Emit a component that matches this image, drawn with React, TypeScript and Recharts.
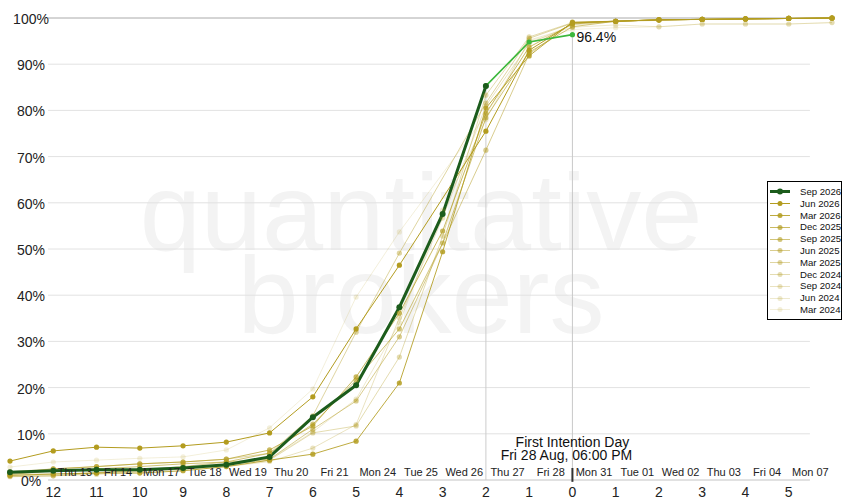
import { Legend, Line, LineChart, ReferenceDot, ReferenceLine, XAxis, YAxis } from 'recharts';

const FONT = '"Liberation Sans", Arial, sans-serif';
const GOLD = '#b39c1f';
const DARK_GREEN = '#1c5c1c';
const LIVE_GREEN = '#3cb83c';

// days relative to first intention day
const POSITIONS = [-13, -12, -11, -10, -9, -8, -7, -6, -5, -4, -3, -2, -1, 0, 1, 2, 3, 4, 5, 6];
const NUM_TICKS = [-12, -11, -10, -9, -8, -7, -6, -5, -4, -3, -2, -1, 0, 1, 2, 3, 4, 5];
const DAY_TICKS = [-11.5, -10.5, -9.5, -8.5, -7.5, -6.5, -5.5, -4.5, -3.5, -2.5, -1.5, -0.5, 0.5, 1.5, 2.5, 3.5, 4.5, 5.5];
const DAY_LABELS = [
  'Thu 13', 'Fri 14', 'Mon 17', 'Tue 18', 'Wed 19', 'Thu 20', 'Fri 21', 'Mon 24', 'Tue 25',
  'Wed 26', 'Thu 27', 'Fri 28', 'Mon 31', 'Tue 01', 'Wed 02', 'Thu 03', 'Fri 04', 'Mon 07',
];
const Y_TICKS = [0, 10, 20, 30, 40, 50, 60, 70, 80, 90, 100];

const SEP_2026 = [1.7, 2.0, 2.2, 2.2, 2.6, 3.3, 5.0, 13.6, 20.5, 37.4, 57.6, 85.3, null, null, null, null, null, null, null, null];
const SEP_2026_LIVE = [null, null, null, null, null, null, null, null, null, null, null, 85.3, 94.8, 96.4, null, null, null, null, null, null];

const JUN_2026 = [4.1, 6.3, 7.1, 6.9, 7.4, 8.2, 10.2, 18.0, 32.7, 46.5, null, 75.5, 93.0, 98.9, 99.3, 99.6, 99.7, 99.8, 99.9, 100];
const MAR_2026 = [1.0, 1.3, 1.5, 1.5, 2.0, 2.9, 4.3, 5.6, 8.4, 21.0, 49.4, 80.5, 91.8, 99.1, 99.3, 99.6, 99.7, 99.8, 99.9, 100];
const DEC_2025 = [1.5, 2.4, 2.9, 3.5, 3.9, 4.5, 6.5, 11.7, 22.3, 36.1, 53.9, 79.4, 93.7, 98.7, 99.3, 99.6, 99.7, 99.8, 99.9, 100];
const SEP_2025 = [1.2, 2.0, 2.4, 2.9, 3.5, 3.9, 5.8, 12.1, 21.6, 32.7, 51.3, 78.4, 92.6, 98.1, 99.3, 99.6, 99.7, 99.8, 99.9, 100];
const JUN_2025 = [0.8, 0.9, 1.5, 2.2, 2.9, 3.9, 4.5, 11.0, 17.1, 31.0, null, 71.4, 92.2, 99.0, 99.3, 99.6, 99.7, 99.8, 99.9, 100];
const MAR_2025 = [1.8, 2.4, 2.9, 3.5, 3.9, 4.5, 5.8, 13.9, 32.0, 49.1, null, 81.6, 95.6, 98.9, 99.3, 99.6, 99.7, 99.8, 99.9, 100];
const DEC_2024 = [1.3, 1.3, 1.5, 2.0, 2.6, 3.3, 4.3, 10.2, 11.7, 26.6, 52.8, 83.3, 95.9, 99.0, 99.3, 99.6, 99.7, 99.8, 99.9, 100];
const SEP_2024 = [0.7, 0.9, 1.2, 1.8, 2.3, 2.9, 4.0, 6.9, 12.0, 35.1, 56.7, 81.0, 94.5, 98.5, 99.2, 99.5, 99.7, 99.8, 99.9, 100];
const JUN_2024 = [1.0, 1.2, 1.6, 2.0, 2.6, 3.3, 4.5, 10.4, 17.5, 34.0, 58.4, 78.0, 95.2, 98.0, 98.5, 98.1, 98.7, 98.7, 98.7, 99.0];
const MAR_2024 = [2.8, 3.9, 4.3, 4.7, 5.0, 6.5, 11.3, 19.7, 39.6, 53.7, null, 79.0, 95.0, 97.5, 97.9, 98.1, 98.7, 98.7, 98.7, 99.0];

const SERIES = [
  { name: 'Jun 2026', values: JUN_2026, opacity: 1 },
  { name: 'Mar 2026', values: MAR_2026, opacity: 0.85 },
  { name: 'Dec 2025', values: DEC_2025, opacity: 0.7 },
  { name: 'Sep 2025', values: SEP_2025, opacity: 0.6 },
  { name: 'Jun 2025', values: JUN_2025, opacity: 0.5 },
  { name: 'Mar 2025', values: MAR_2025, opacity: 0.42 },
  { name: 'Dec 2024', values: DEC_2024, opacity: 0.35 },
  { name: 'Sep 2024', values: SEP_2024, opacity: 0.28 },
  { name: 'Jun 2024', values: JUN_2024, opacity: 0.22 },
  { name: 'Mar 2024', values: MAR_2024, opacity: 0.16 },
];

const GRID_X0 = -12.12;
const GRID_X1 = 5.49;

const rows = POSITIONS.map((pos, i) => {
  const row: Record<string, number | null> = { pos, sep2026: SEP_2026[i], live: SEP_2026_LIVE[i] };
  SERIES.forEach((s) => {
    row[s.name] = s.values[i];
  });
  return row;
});

const FID_INDEX = POSITIONS.indexOf(0);
const LAST_INDEX = SEP_2026.findIndex((v) => v === null) - 1;

function XTick({ x, y, payload }: any) {
  const v = payload.value;
  const dayIdx = DAY_TICKS.indexOf(v);
  if (dayIdx >= 0) {
    return (
      <text x={x} y={y - 6} textAnchor="middle" fontSize={11} fill="#222" fontFamily={FONT}>
        {DAY_LABELS[dayIdx]}
      </text>
    );
  }
  return (
    <text x={x} y={y + 15} textAnchor="middle" fontSize={14} fill="#222" fontFamily={FONT}>
      {Math.abs(v)}
    </text>
  );
}

function YTick({ y, payload }: any) {
  const v = payload.value;
  return (
    <text x={31} y={y + 6} textAnchor="middle" fontSize={14} fill="#222" fontFamily={FONT}>
      {v}%
    </text>
  );
}

function LegendBox() {
  const items = [{ name: 'Sep 2026', color: DARK_GREEN, opacity: 1, width: 3, r: 3 }].concat(
    SERIES.map((s) => ({ name: s.name, color: GOLD, opacity: s.opacity, width: 1, r: 2.5 })),
  );
  return (
    <div
      style={{
        boxSizing: 'border-box',
        width: 75,
        height: 139,
        border: '1px solid #000',
        background: '#fff',
        padding: '4px 0 0 2px',
        fontFamily: FONT,
        fontSize: 9.6,
        color: '#111',
      }}
    >
      {items.map((it) => (
        <div key={it.name} style={{ display: 'flex', alignItems: 'center', height: 11.8, lineHeight: '11.8px' }}>
          <svg width={21} height={11} style={{ flex: 'none' }}>
            <line x1={0} x2={20} y1={5.5} y2={5.5} stroke={it.color} strokeOpacity={it.opacity} strokeWidth={it.width} />
            <circle cx={10} cy={5.5} r={it.r} fill={it.color} fillOpacity={it.opacity} />
          </svg>
          <span style={{ marginLeft: 9, whiteSpace: 'nowrap' }}>{it.name}</span>
        </div>
      ))}
    </div>
  );
}

export default function App() {
  return (
    <div style={{ position: 'absolute', left: 0, top: 0, width: 850, height: 500, background: '#fff' }}>
      <svg width={850} height={500} style={{ position: 'absolute', left: 0, top: 0 }}>
        <text x={421} y={250} textAnchor="middle" fontSize={110} fill="#f3f3f3" fontFamily={FONT}>
          quantitative
        </text>
        <text x={421} y={333} textAnchor="middle" fontSize={110} fill="#f3f3f3" fontFamily={FONT}>
          brokers
        </text>
      </svg>
      <div style={{ position: 'absolute', left: 0, top: 0 }}>
        <LineChart width={850} height={500} data={rows} margin={{ top: 18, right: 18, bottom: 0, left: 9 }}>
          <XAxis
            dataKey="pos"
            type="number"
            domain={[-13, 6]}
            ticks={[...NUM_TICKS, ...DAY_TICKS].sort((a, b) => a - b)}
            interval={0}
            height={20}
            tickSize={0}
            axisLine={false}
            tickLine={false}
            tick={(p: any) => <XTick {...p} />}
          />
          <YAxis
            type="number"
            domain={[0, 100]}
            ticks={Y_TICKS}
            interval={0}
            width={1}
            axisLine={false}
            tickLine={false}
            tick={(p: any) => <YTick {...p} />}
          />
          {Y_TICKS.map((v) => (
            <ReferenceLine
              key={v}
              segment={[
                { x: GRID_X0, y: v },
                { x: v === 100 ? 6 : GRID_X1, y: v },
              ]}
              stroke={v === 100 ? '#aaaaaa' : v === 0 ? '#c4c4c4' : '#e2e2e2'}
              strokeWidth={1}
            />
          ))}
          <ReferenceLine
            segment={[
              { x: POSITIONS[LAST_INDEX], y: 0 },
              { x: POSITIONS[LAST_INDEX], y: SEP_2026[LAST_INDEX] as number },
            ]}
            stroke="#cccccc"
          />
          <ReferenceLine
            segment={[
              { x: 0, y: 0 },
              { x: 0, y: SEP_2026_LIVE[FID_INDEX] as number },
            ]}
            stroke="#c8c8c8"
          />
          <ReferenceLine
            segment={[
              { x: 0, y: -0.4 },
              { x: 0, y: 2.6 },
            ]}
            stroke="#333"
            strokeWidth={2}
            ifOverflow="visible"
          />
          {[...SERIES].reverse().map((s) => (
            <Line
              key={s.name}
              dataKey={s.name}
              stroke={GOLD}
              strokeOpacity={s.opacity}
              strokeWidth={1}
              dot={{ r: 2.6, fill: GOLD, fillOpacity: s.opacity, stroke: 'none' }}
              activeDot={false}
              connectNulls
              isAnimationActive={false}
            />
          ))}
          <Line
            dataKey="live"
            stroke={LIVE_GREEN}
            strokeWidth={1.6}
            dot={{ r: 2.6, fill: LIVE_GREEN, stroke: 'none' }}
            activeDot={false}
            isAnimationActive={false}
          />
          <Line
            dataKey="sep2026"
            stroke={DARK_GREEN}
            strokeWidth={3}
            dot={{ r: 3, fill: DARK_GREEN, stroke: 'none' }}
            activeDot={false}
            isAnimationActive={false}
          />
          <ReferenceDot
            x={0}
            y={SEP_2026_LIVE[FID_INDEX] as number}
            r={0}
            shape={(p: any) => (
              <text x={p.cx + 4} y={p.cy + 7} fontSize={14} fill="#111" fontFamily={FONT}>
                {SEP_2026_LIVE[FID_INDEX]}%
              </text>
            )}
          />
          <ReferenceDot
            x={0}
            y={0}
            r={0}
            shape={(p: any) => (
              <g fontFamily={FONT} fontSize={14} fill="#111" textAnchor="middle">
                <text x={p.cx} y={p.cy - 33}>First Intention Day</text>
                <text x={p.cx - 6} y={p.cy - 20}>Fri 28 Aug, 06:00 PM</text>
              </g>
            )}
          />
          <Legend
            layout="vertical"
            align="center"
            verticalAlign="middle"
            wrapperStyle={{ left: 767, top: 181, width: 75 }}
            content={() => <LegendBox />}
          />
        </LineChart>
      </div>
    </div>
  );
}
